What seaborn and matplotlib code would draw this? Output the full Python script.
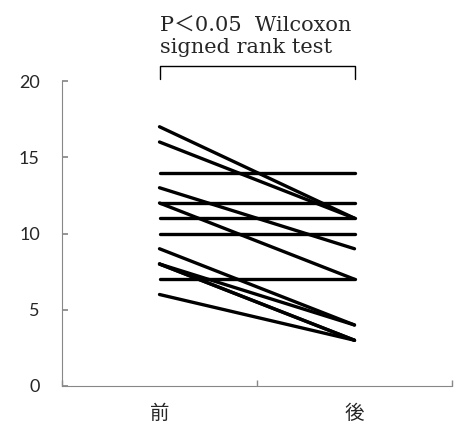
import numpy as np
import matplotlib
matplotlib.use("Agg")
import matplotlib.pyplot as plt
from matplotlib.ticker import FixedLocator
import pandas as pd
import seaborn as sns

# paired scores, one entry per subject
conditions = ["前", "後"]
before = [17, 16, 14, 13, 12, 12, 11, 10, 9, 8, 8, 8, 7, 6]
after = [11, 11, 14, 9, 12, 7, 11, 10, 4, 4, 3, 3, 7, 3]
yticks = [0, 5, 10, 15, 20]

sns.set_theme(style="ticks")
plt.rcParams['font.family'] = ['Lato', 'Noto Sans CJK JP', 'DejaVu Sans']

n = len(before)
df = pd.DataFrame({
    'subject': list(range(n)) * 2,
    'time': [conditions[0]] * n + [conditions[1]] * n,
    'value': before + after,
})

fig = plt.figure(figsize=(4.61, 4.30), dpi=100)
ax = fig.add_axes([62/461, 1-386/430, (452-62)/461, (386-81)/430])

sns.lineplot(data=df, x='time', y='value', units='subject', estimator=None,
             color='black', linewidth=2.4, ax=ax, legend=False)

ax.set_xlim(-0.5, 1.5)
ax.set_ylim(0, 20)
ax.set_yticks(yticks)
ax.set_xticks([0, 1])
ax.set_xticklabels(conditions, family=['Noto Sans CJK JP'], fontsize=14)
ax.xaxis.set_minor_locator(FixedLocator([-0.5, 0.5, 1.5]))
ax.tick_params(axis='x', which='major', length=0, pad=12)
ax.tick_params(axis='x', which='minor', direction='in', length=4, color='#888888')
ax.tick_params(axis='y', direction='in', length=4, color='#888888', labelsize=13, pad=16)
ax.set_xlabel('')
ax.set_ylabel('')
sns.despine(ax=ax)
for side in ['left', 'bottom']:
    ax.spines[side].set_color('#888888')
    ax.spines[side].set_linewidth(0.8)

# significance bracket
ax.plot([0, 0, 1, 1], [20.1, 21.0, 21.0, 20.1], color='black', linewidth=1.0, clip_on=False)
ax.text(0.0, 21.6, "P＜0.05  Wilcoxon\nsigned rank test", ha='left', va='bottom',
        family=['DejaVu Serif', 'Noto Sans CJK JP'], fontsize=15, linespacing=1.1)

fig.savefig("out.png", dpi=100)
